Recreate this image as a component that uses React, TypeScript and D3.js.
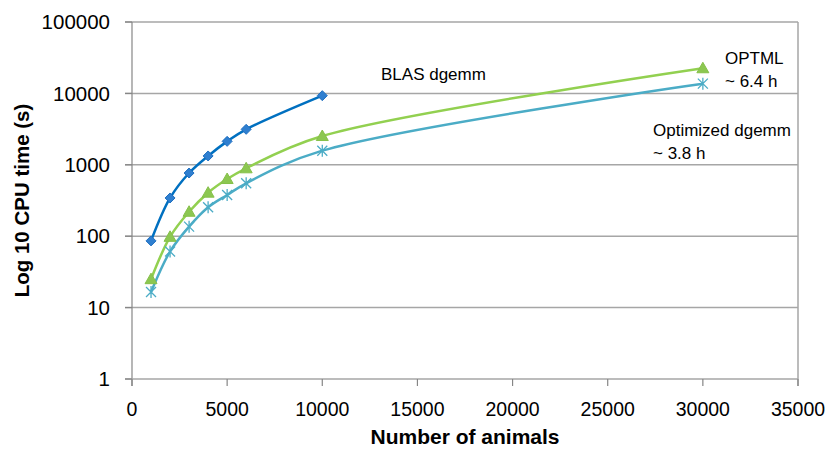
import React from "react";
import * as d3 from "d3";

// values
const blasX = [1000, 2000, 3000, 4000, 5000, 6000, 10000];
const blasY = [86, 343, 767, 1330, 2130, 3140, 9300];

const optmlX = [1000, 2000, 3000, 4000, 5000, 6000, 10000, 30000];
const optmlY = [25, 98, 220, 407, 632, 893, 2530, 22500];

const optDgemmX = [1000, 2000, 3000, 4000, 5000, 6000, 10000, 30000];
const optDgemmY = [16.5, 61, 136, 254, 378, 551, 1577, 13700];

const xTicks = [0, 5000, 10000, 15000, 20000, 25000, 30000, 35000];
const yTicks = [1, 10, 100, 1000, 10000, 100000];

const width = 831;
const height = 453;
const margin = { top: 22, right: 33, bottom: 74, left: 132 };

const font = "'Liberation Sans', Arial, sans-serif";
const gridColor = "#a6a6a6";

const App = () => {
    const x = d3
        .scaleLinear()
        .domain([0, 35000])
        .range([margin.left, width - margin.right]);

    const y = d3
        .scaleLog()
        .domain([1, 100000])
        .range([height - margin.bottom, margin.top]);

    const line = d3
        .line<[number, number]>()
        .x((d) => x(d[0]))
        .y((d) => y(d[1]))
        .curve(d3.curveCatmullRom);

    const zip = (xs: number[], ys: number[]) =>
        xs.map((v, i) => [v, ys[i]] as [number, number]);

    const blas = zip(blasX, blasY);
    const optml = zip(optmlX, optmlY);
    const optDgemm = zip(optDgemmX, optDgemmY);

    const x0 = margin.left;
    const x1 = width - margin.right;
    const yBottom = height - margin.bottom;

    return (
        <svg
            width={width}
            height={height}
            style={{ position: "absolute", left: 0, top: 0, background: "#fff" }}
        >
            {/* gridlines */}
            {yTicks.slice(1).map((t) => (
                <line
                    key={t}
                    x1={x0 - 7}
                    x2={x1}
                    y1={y(t)}
                    y2={y(t)}
                    stroke={gridColor}
                    strokeWidth={1.5}
                />
            ))}

            {/* axes */}
            <line x1={x0} x2={x0} y1={margin.top} y2={yBottom + 7} stroke="#868686" strokeWidth={1.2} />
            <line x1={x1} x2={x1} y1={margin.top} y2={yBottom + 7} stroke={gridColor} strokeWidth={1.5} />
            <line x1={x0 - 7} x2={x1} y1={yBottom} y2={yBottom} stroke={gridColor} strokeWidth={1.5} />
            {yTicks.map((t) => (
                <line key={t} x1={x0 - 7} x2={x0} y1={y(t)} y2={y(t)} stroke="#868686" strokeWidth={1.2} />
            ))}
            {xTicks.map((t) => (
                <line key={t} x1={x(t)} x2={x(t)} y1={yBottom} y2={yBottom + 7} stroke="#868686" strokeWidth={1.2} />
            ))}

            {/* tick labels */}
            {yTicks.map((t) => (
                <text
                    key={t}
                    x={110}
                    y={y(t)}
                    dy="0.35em"
                    textAnchor="end"
                    fontFamily={font}
                    fontSize={20.5}
                    fill="#000"
                >
                    {t}
                </text>
            ))}
            {xTicks.map((t) => (
                <text
                    key={t}
                    x={x(t)}
                    y={409}
                    dy="0.35em"
                    textAnchor="middle"
                    fontFamily={font}
                    fontSize={19.5}
                    fill="#000"
                >
                    {t}
                </text>
            ))}

            {/* axis titles */}
            <text
                x={(x0 + x1) / 2}
                y={437}
                dy="0.35em"
                textAnchor="middle"
                fontFamily={font}
                fontWeight="bold"
                fontSize={21}
            >
                Number of animals
            </text>
            <text
                transform={`translate(22,${(margin.top + yBottom) / 2}) rotate(-90)`}
                dy="0.35em"
                textAnchor="middle"
                fontFamily={font}
                fontWeight="bold"
                fontSize={20.5}
            >
                Log 10 CPU time (s)
            </text>

            {/* series lines */}
            <path d={line(blas) ?? ""} fill="none" stroke="#0070c0" strokeWidth={2.5} />
            <path d={line(optml) ?? ""} fill="none" stroke="#92d050" strokeWidth={2.5} />
            <path d={line(optDgemm) ?? ""} fill="none" stroke="#4bacc6" strokeWidth={2.5} />

            {/* markers */}
            {blas.map((d, i) => (
                <path
                    key={i}
                    transform={`translate(${x(d[0])},${y(d[1])})`}
                    d="M0,-5L5,0L0,5L-5,0Z"
                    fill="#2f7fd0"
                    stroke="#1f6fc0"
                    strokeWidth={1}
                />
            ))}
            {optml.map((d, i) => (
                <path
                    key={i}
                    transform={`translate(${x(d[0])},${y(d[1])})`}
                    d="M0,-6L6,4.5L-6,4.5Z"
                    fill="#8cc751"
                    stroke="#86c04a"
                    strokeWidth={1}
                />
            ))}
            {optDgemm.map((d, i) => (
                <path
                    key={i}
                    transform={`translate(${x(d[0])},${y(d[1])})`}
                    d="M-5,-5L5,5M-5,5L5,-5M0,-6L0,6"
                    fill="none"
                    stroke="#4bacc6"
                    strokeWidth={1.3}
                />
            ))}

            {/* annotations */}
            <g fontFamily={font} fontSize={17} fill="#000">
                <text x={381} y={74} dy="0.35em">BLAS dgemm</text>
                <text x={725} y={58} dy="0.35em">OPTML</text>
                <text x={725} y={81} dy="0.35em">~ 6.4 h</text>
                <text x={653} y={130} dy="0.35em">Optimized dgemm</text>
                <text x={653} y={153} dy="0.35em">~ 3.8 h</text>
            </g>
        </svg>
    );
};

export default App;
